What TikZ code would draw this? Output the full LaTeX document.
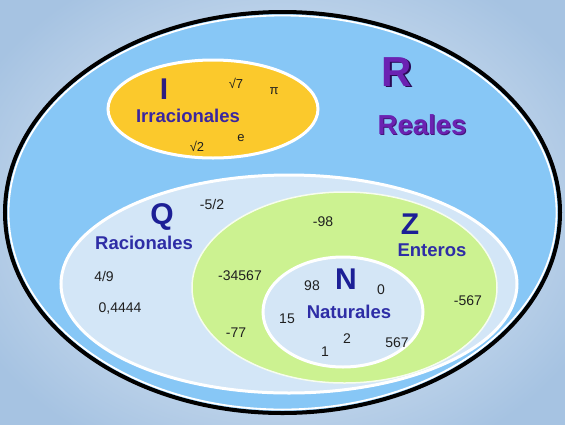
\documentclass[tikz,border=0pt]{standalone}
\usepackage{fontspec}
\setmainfont{Liberation Sans}
\usetikzlibrary{shapes.geometric}
\definecolor{bgin}{HTML}{EEF4FA}
\definecolor{bgout}{HTML}{A6C3E2}
\definecolor{rfill}{HTML}{87C7F6}
\definecolor{ifill}{HTML}{FBC92C}
\definecolor{qfill}{HTML}{D3E6F7}
\definecolor{zfill}{HTML}{CCF291}
\definecolor{nfill}{HTML}{D4E6F6}
\definecolor{setletter}{HTML}{1C1F96}
\definecolor{iletter}{HTML}{2E1D80}
\definecolor{setname}{HTML}{2E2DA6}
\definecolor{realc}{HTML}{6B22B2}
\definecolor{realsh}{HTML}{2A0A55}
\begin{document}
\begin{tikzpicture}[x=1pt,y=-1pt,
  setset/.style={ellipse, inner sep=0pt},
  num/.style={font=\fontsize{14}{14}\selectfont, text=black!88, inner sep=0pt},
  smallnum/.style={font=\fontsize{13}{13}\selectfont, text=black!88, inner sep=0pt},
  bigletter/.style={font=\fontsize{30}{30}\selectfont\bfseries, text=setletter, inner sep=0pt},
  setlabel/.style={font=\fontsize{18.5}{18.5}\selectfont\bfseries, text=setname, inner sep=0pt},
  realbig/.style={font=\fontsize{42}{42}\selectfont\bfseries, inner sep=0pt},
  reallabel/.style={font=\fontsize{27.5}{27.5}\selectfont\bfseries, inner sep=0pt}
]
\useasboundingbox (0,0) rectangle (565,424);
\shade[inner color=bgin, outer color=bgout] (-60,-60) rectangle (625,484);

% R: real numbers
\node[setset, fill=rfill, draw=black, line width=4pt, minimum width=555pt, minimum height=401pt] (R) at (282.5,212.5) {};
\node[setset, draw=white, line width=1.8pt, minimum width=548pt, minimum height=394pt] (Rin) at (282.5,212.5) {};

% I: irrational numbers
\node[setset, fill=ifill, draw=white, line width=3pt, minimum width=210pt, minimum height=98pt] (I) at (213,109) {};

% Q: rational numbers
\node[setset, fill=qfill, draw=white, line width=3pt, minimum width=456pt, minimum height=218pt] (Q) at (289,284) {};

% Z: integers
\node[setset, fill=zfill, draw=white!85!zfill, line width=1.5pt, minimum width=305pt, minimum height=191pt] (Z) at (344.5,287.5) {};

% N: natural numbers
\node[setset, fill=nfill, draw=white, line width=3pt, minimum width=160pt, minimum height=110pt] (N) at (343,312) {};

% R labels
\node[realbig, text=realsh] (Rsh) at (398.5,73.5) {R};
\node[realbig, text=realc] (Rl) at (397,72) {R};
\node[reallabel, text=realsh!60!realc] (Realessh) at (423,126) {Reales};
\node[reallabel, text=realc] (Reales) at (422,125) {Reales};

% I labels
\node[bigletter, text=iletter] (Il) at (164,89) {I};
\node[setlabel, text=setname!85!violet] (Irr) at (188,116) {Irracionales};
\node[smallnum] (s7) at (236,83) {√7};
\node[smallnum] (pi) at (274,91) {π};
\node[smallnum] (s2) at (197,146) {√2};
\node[smallnum] (e) at (241,138) {e};

% Q labels
\node[bigletter] (Ql) at (162,217) {Q};
\node[setlabel] (Rac) at (144,243) {Racionales};
\node[num] (m52) at (212,204) {-5/2};
\node[num] (q49) at (104,276) {4/9};
\node[num] (q04) at (120,309) {0,4444};

% Z labels
\node[bigletter] (Zl) at (410,224) {Z};
\node[setlabel] (Ent) at (432,250) {Enteros};
\node[num] (m98) at (323,222) {-98};
\node[num] (m34567) at (240,276) {-34567};
\node[num] (m77) at (236,333) {-77};
\node[num] (m567) at (468,301) {-567};

% N labels
\node[bigletter] (Nl) at (346,279) {N};
\node[setlabel] (Nat) at (349,312) {Naturales};
\node[num] (n98) at (312,286) {98};
\node[num] (n0) at (381,290) {0};
\node[num] (n15) at (287,319) {15};
\node[num] (n2) at (347,339) {2};
\node[num] (n1) at (325,352) {1};
\node[num] (n567) at (397,343) {567};
\end{tikzpicture}
\end{document}
